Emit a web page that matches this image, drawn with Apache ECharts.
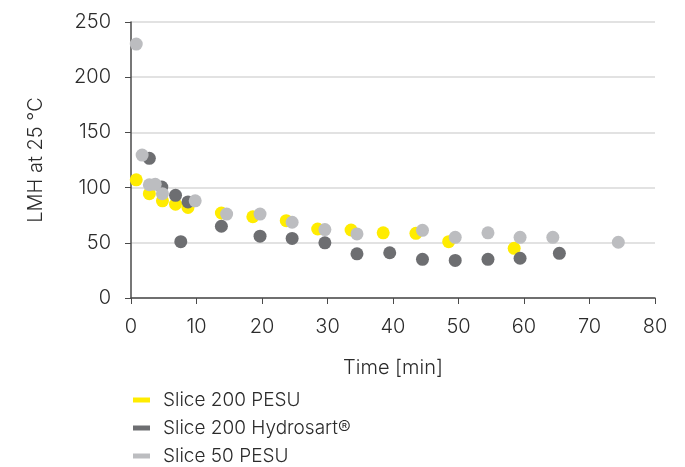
<!DOCTYPE html>
<html>
<head>
<meta charset="utf-8">
<script src="https://cdn.jsdelivr.net/npm/echarts@6/dist/echarts.min.js"></script>
<style>
  html, body { margin: 0; padding: 0; background: #fff; }
</style>
</head>
<body>
<div id="main" style="width: 685px;height: 467px;"></div>
<script>
// Slice 200 PESU
const pesu200 = [
  [0.8, 107], [2.8, 94.5], [4.8, 88], [6.8, 85], [8.7, 82],
  [13.8, 77], [18.6, 73.6], [23.7, 70], [28.5, 62.5], [33.6, 61.6],
  [38.5, 59], [43.5, 58.6], [48.5, 51], [58.5, 45]
]
// Slice 200 Hydrosart
const hydrosart200 = [
  [2.8, 126.5], [4.7, 100.5], [6.8, 93], [7.6, 51], [8.7, 87],
  [13.8, 65], [19.7, 56], [24.6, 54], [29.6, 50], [34.5, 40],
  [39.5, 41], [44.5, 35], [49.5, 34], [54.5, 35], [59.4, 36], [65.4, 40.5]
]
// Slice 50 PESU
const pesu50 = [
  [0.8, 230], [1.7, 129.5], [2.8, 102.6], [3.7, 103], [4.8, 94.5],
  [9.8, 88], [14.6, 76], [19.7, 76], [24.6, 68.6], [29.6, 62],
  [34.5, 58], [44.5, 61.3], [49.5, 55], [54.5, 59], [59.4, 55],
  [64.4, 55], [74.4, 50.5]
]
const seriesNames = ['Slice 200 PESU', 'Slice 200 Hydrosart®', 'Slice 50 PESU']
const colors = ['#ffec00', '#6d6e71', '#bcbdc0']

const chart = echarts.init(document.getElementById('main'))
const font = 'Inter, "Noto Sans", sans-serif'

const option = {
  backgroundColor: '#ffffff',
  animation: false,
  textStyle: { fontFamily: font },
  grid: { left: 131, right: 30, top: 22, bottom: 169 },
  legend: {
    orient: 'vertical',
    left: 133,
    top: 390,
    padding: 0,
    icon: 'rect',
    itemWidth: 17,
    itemHeight: 5,
    itemGap: 8,
    textStyle: { fontSize: 19, lineHeight: 20, color: '#2b2b2b', fontFamily: font, fontWeight: 300, padding: [0, 0, 0, 8] },
    data: seriesNames
  },
  xAxis: {
    type: 'value',
    min: 0, max: 80, interval: 10,
    name: 'Time [min]',
    nameLocation: 'middle',
    nameGap: 60,
    nameTextStyle: { fontSize: 20, color: '#2b2b2b', fontWeight: 300 },
    axisLine: { lineStyle: { color: '#4a4a4a', width: 1.5 } },
    axisTick: { show: true, length: 6, lineStyle: { color: '#4a4a4a' } },
    axisLabel: { fontSize: 20, color: '#2b2b2b', margin: 19, fontWeight: 300 },
    splitLine: { show: false }
  },
  yAxis: {
    type: 'value',
    min: 0, max: 250, interval: 50,
    name: 'LMH at 25 °C',
    nameLocation: 'middle',
    nameGap: 85,
    nameRotate: 90,
    nameTextStyle: { fontSize: 20, color: '#2b2b2b', fontWeight: 300 },
    axisLine: { show: true, lineStyle: { color: '#4a4a4a', width: 1.5 } },
    axisTick: { show: true, length: 6, lineStyle: { color: '#4a4a4a' } },
    axisLabel: { fontSize: 20, color: '#2b2b2b', margin: 20, fontWeight: 300 },
    splitLine: { show: true, lineStyle: { color: '#d9d9d9', width: 1.5 } }
  },
  series: [
    { name: seriesNames[0], type: 'scatter', data: pesu200, symbolSize: 13, itemStyle: { color: colors[0], opacity: 1 }, z: 3 },
    { name: seriesNames[1], type: 'scatter', data: hydrosart200, symbolSize: 13, itemStyle: { color: colors[1], opacity: 1 }, z: 4 },
    { name: seriesNames[2], type: 'scatter', data: pesu50, symbolSize: 13, itemStyle: { color: colors[2], opacity: 1 }, z: 5 }
  ]
}
option && chart.setOption(option)
</script>
</body>
</html>
